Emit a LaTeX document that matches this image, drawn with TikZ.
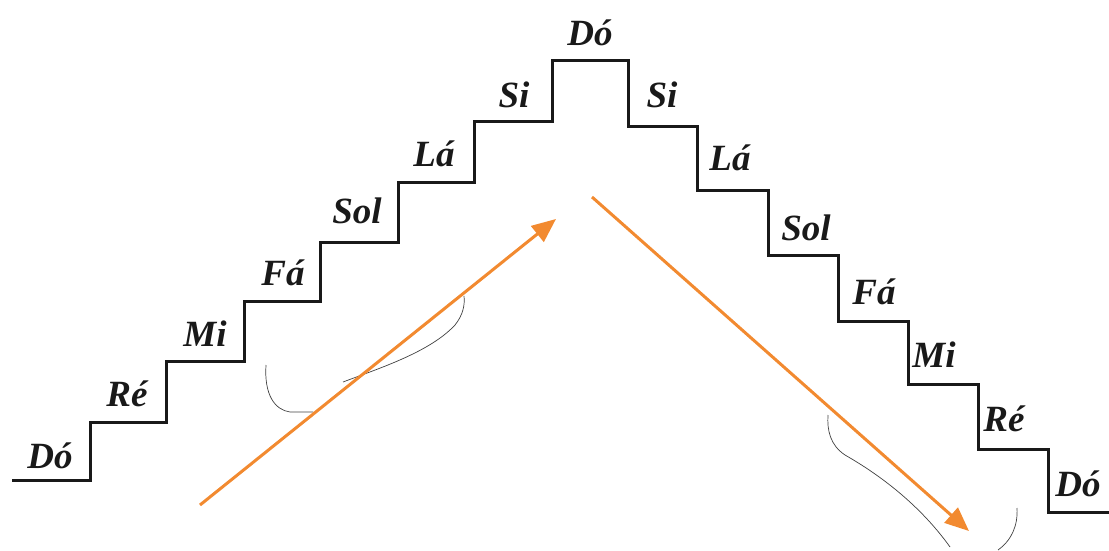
\documentclass[tikz,border=0pt]{standalone}
\usepackage{fontspec}
\setmainfont{Liberation Serif}
\usetikzlibrary{arrows.meta}
\definecolor{arrorange}{HTML}{F28A30}
\tikzset{
  stair/.style={line width=3pt, black!90, line join=miter},
  note/.style={font=\bfseries\itshape\fontsize{37}{37}\selectfont, inner sep=0pt, text=black!90},
  flow/.style={line width=3pt, arrorange, -{Triangle[length=24pt,width=20pt]}},
  smudge/.style={line width=0.7pt, black!75}
}
\begin{document}
\begin{tikzpicture}[x=1pt,y=-1pt]
\useasboundingbox (0,0) rectangle (1109,551);
% staircase
\draw[stair] (12,480) -- (90,480) -- (90,422) -- (166,422) -- (166,361) -- (244,361)
  -- (244,301) -- (320,301) -- (320,242) -- (398,242) -- (398,182) -- (474,182)
  -- (474,121) -- (552,121) -- (552,61) -- (628,61) -- (628,126) -- (697,126)
  -- (697,190) -- (768,190) -- (768,255) -- (838,255) -- (838,321) -- (908,321)
  -- (908,384) -- (978,384) -- (978,449) -- (1048,449) -- (1048,512) -- (1109,512);
% labels
\node[note] (l1) at (50,456) {Dó};
\node[note] (l2) at (127,394) {Ré};
\node[note] (l3) at (205,334) {Mi};
\node[note] (l4) at (283,273) {Fá};
\node[note] (l5) at (357,211) {Sol};
\node[note] (l6) at (434,154) {Lá};
\node[note] (l7) at (514,95) {Si};
\node[note] (l8) at (590,33) {Dó};
\node[note] (r7) at (662,95) {Si};
\node[note] (r6) at (730,158) {Lá};
\node[note] (r5) at (806,228) {Sol};
\node[note] (r4) at (874,292) {Fá};
\node[note] (r3) at (934,355) {Mi};
\node[note] (r2) at (1004,419) {Ré};
\node[note] (r1) at (1078,484) {Dó};
% smudge outlines
\draw[smudge] (266,365) .. controls (264,395) and (275,410) .. (290,412) -- (313,412);
\draw[smudge] (343,382) .. controls (380,368) and (430,352) .. (455,325) .. controls (463,315) and (465,305) .. (464,296);
\draw[smudge] (828,415) .. controls (827,430) and (830,445) .. (845,455) .. controls (880,475) and (920,505) .. (950,547);
\draw[smudge] (1017,508) .. controls (1018,525) and (1012,540) .. (998,550);
% arrows
\coordinate (a1s) at (200,505);
\coordinate (a1e) at (556,219);
\coordinate (a2s) at (592,197);
\coordinate (a2e) at (969,531);
\draw[flow] (a1s) -- (a1e);
\draw[flow] (a2s) -- (a2e);
\end{tikzpicture}
\end{document}
